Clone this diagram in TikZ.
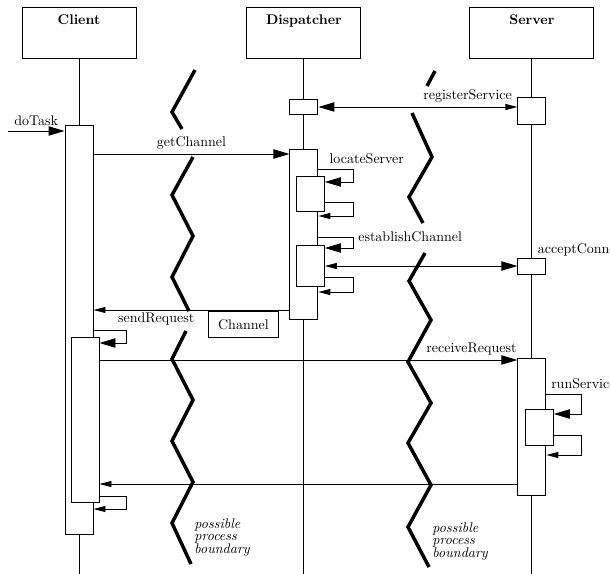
\documentclass[tikz,border=0pt]{standalone}
\usepackage{tikz}
\usetikzlibrary{
	arrows.meta,
	positioning
}
\newcommand{\lblsize}{\fontsize{10.5}{12}\selectfont}
\tikzset{
	BigTri/.tip={Triangle[length=12pt,width=7pt]},
	SmallTri/.tip={Triangle[length=9pt,width=4.5pt]},
	head/.style={draw, rectangle, minimum width=85.5pt, text height=10pt, text depth=22pt, inner ysep=3pt, font=\lblsize\bfseries},
	act/.style={draw, rectangle, fill=white, minimum width=21pt, inner sep=0pt},
	call/.style={-BigTri},
	ret/.style={-SmallTri},
	boundary/.style={line width=2.6pt},
	bnote/.style={align=left, inner sep=0pt, font=\fontsize{10.5}{9.5}\selectfont\itshape}
}

\begin{document}
\begin{tikzpicture}[x=0.75pt, y=-0.75pt, line width=0.7pt, font=\lblsize]
	\useasboundingbox (0,0) rectangle (610,574);
	\clip (0,0) rectangle (610,574);
	% message levels
	\foreach \n/\y in {reg/107, get/154, loc/169, locIn/182, locOut/202, locBack/216, est/237, estIn/248, conn/266, estOut/277, estBack/292, chan/310, send/330, sendIn/343, recv/360, run/394, runIn/414, runOut/435, runBack/455, reply/484, done/496, doneIn/509, bottom/574}
		\coordinate (y\n) at (0,\y);
	\coordinate (doIn) at (8,131);

	\node[head] (client) at (79,33) {Client};
	\node[head, right=82.5pt of client] (disp) {Dispatcher};
	\node[head, right=81pt of disp, minimum width=93pt] (server) {Server};
	\foreach \h in {client, disp, server}
		\draw (\h.south) -- (\h.south |- ybottom);

	% activation bars
	\node[act, minimum height=306.75pt, below=50pt of client] (cAct) {};
	\node[act, minimum height=123.75pt, below right=159pt and 4.5pt of cAct.north west] (cSub) {};
	\node[act, minimum height=11.25pt, below=29.8pt of disp] (dReg) {};
	\node[act, minimum height=127.5pt, below=26.25pt of dReg] (dAct) {};
	\node[act, minimum height=26.25pt, below right=20.25pt and -6pt of dAct.north] (dLoc) {};
	\node[act, minimum height=30.75pt, below right=72pt and -6pt of dAct.north] (dEst) {};
	\node[act, minimum height=20.25pt, below=28.3pt of server] (sReg) {};
	\node[act, minimum height=12pt, below=100.5pt of sReg] (sAcc) {};
	\node[act, minimum height=102.75pt, below=62.25pt of sAcc] (sAct) {};
	\node[act, minimum height=27pt, below right=38.25pt and -5.25pt of sAct.north] (sRun) {};

	% messages
	\draw[call] (doIn) -- (cAct.west |- doIn) node[midway, above] (lblDo) {doTask};
	\draw[call] (cAct.east |- yget) -- (dAct.west |- yget) node[midway, above] (lblGet) {getChannel};
	\draw[BigTri-SmallTri] (dReg.east |- yreg) -- (sReg.west |- yreg) node[pos=0.75, above] (lblReg) {registerService};
	\draw[call] (dAct.east |- yloc) -- ++(35,0) node[above, xshift=10pt] (lblLoc) {locateServer} |- (dLoc.east |- ylocIn);
	\draw[ret] (dLoc.east |- ylocOut) -- ++(29,0) |- (dAct.east |- ylocBack);
	\draw[call] (dAct.east |- yest) -- ++(35,0) node[right] (lblEst) {establishChannel} |- (dEst.east |- yestIn);
	\draw[SmallTri-BigTri] (dEst.east |- yconn) -- (sAcc.west |- yconn);
	\node[above right=-2pt and -10pt of sAcc.north east] (lblAcc) {acceptConnection};
	\draw[ret] (dEst.east |- yestOut) -- ++(29,0) |- (dAct.east |- yestBack);
	\draw[ret] (dAct.west |- ychan) -- (cAct.east |- ychan) node[draw, fill=white, below, pos=0.235, yshift=-1pt, minimum width=52.5pt, minimum height=19.5pt] (chan) {Channel};
	\draw[call] (cAct.east |- ysend) -- ++(33,0) node[above right, xshift=-10pt] (lblSend) {sendRequest} |- (cSub.east |- ysendIn);
	\draw[call] (cSub.east |- yrecv) -- (sAct.west |- yrecv) node[pos=0.89, above] (lblRecv) {receiveRequest};
	\draw[call] (sAct.east |- yrun) node[above right] (lblRun) {runService} -- ++(35,0) |- (sRun.east |- yrunIn);
	\draw[ret] (sRun.east |- yrunOut) -- ++(28,0) |- (sAct.east |- yrunBack);
	\draw[ret] (sAct.west |- yreply) -- (cSub.east |- yreply);
	\draw[ret] (cSub.east |- ydone) -- ++(27,0) |- (cAct.east |- ydoneIn);

	% process boundaries
	\draw[boundary] (195,70) -- (172,112) -- (182,129);
	\draw[boundary] (193,157) -- (172,195) -- (193,236) -- (172,277) -- (189,311);
	\draw[boundary] (186,331) -- (172,359) -- (193,400) -- (172,441) -- (193,482) -- (172,523) -- (191,564);
	\draw[boundary] (435,71) -- (427,86);
	\draw[boundary] (412,113) -- (432,157) -- (409,197) -- (423,223);
	\draw[boundary] (425,253) -- (409,281) -- (431,320) -- (408,362) -- (431,403) -- (408,443) -- (431,485) -- (408,527) -- (429,567);
	\node[bnote, anchor=north west] (bndLeft) at (194,518) {possible\\process\\boundary};
	\node[bnote, anchor=north west] (bndRight) at (432,522) {possible\\process\\boundary};
\end{tikzpicture}
\end{document}
